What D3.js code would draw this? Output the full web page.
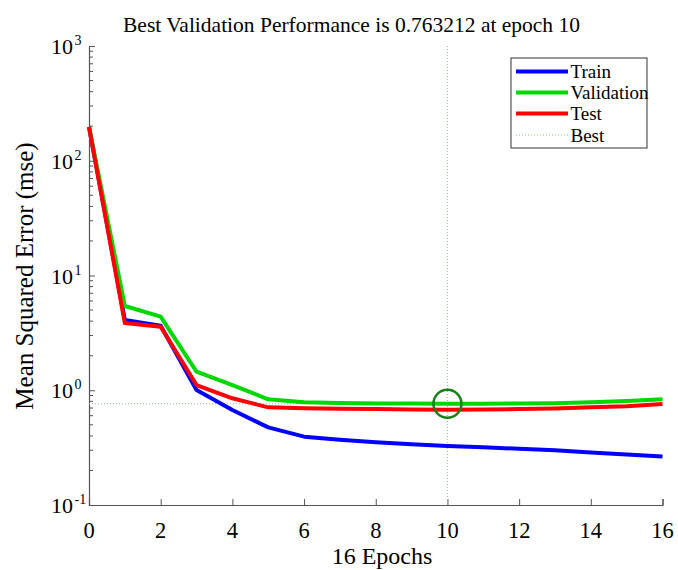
<!DOCTYPE html>
<html><head><meta charset="utf-8">
<script src="https://cdn.jsdelivr.net/npm/d3@7"></script>
<style>body{margin:0;background:#fff;} svg text{font-family:Liberation Serif, serif;}</style>
</head><body>
<svg id="chart" width="678" height="570" font-family="Liberation Serif"></svg>
<script>
const epochs = [0,1,2,3,4,5,6,7,8,9,10,11,12,13,14,15,16];
const train = [197,4.1,3.65,1.005,0.673,0.475,0.394,0.37,0.352,0.338,0.327,0.318,0.309,0.300,0.287,0.275,0.264];
const validation = [197,5.42,4.38,1.45,1.11,0.834,0.785,0.775,0.768,0.765,0.763212,0.764,0.765,0.772,0.785,0.805,0.834];
const test = [197,3.85,3.58,1.11,0.851,0.71,0.697,0.69,0.685,0.68,0.675,0.678,0.685,0.695,0.71,0.725,0.759];
const bestEpoch = 10, bestValue = 0.763212;
const xTicks = [0,2,4,6,8,10,12,14,16];
const yTicks = [0.1,1,10,100,1000];
const yExps = ["-1","0","1","2","3"];
const seriesNames = ["Train","Validation","Test"];
const seriesColors = ["#0000ff","#00d800","#ff0000"];
const titleText = "Best Validation Performance is 0.763212 at epoch 10";
const xLabel = "16 Epochs";
const yLabel = "Mean Squared Error (mse)";

const FONT = "Liberation Serif";
const svg = d3.select("#chart");
const L = 89, R = 662.5, T = 46, B = 505;
const x = d3.scaleLinear().domain([0,16]).range([L,R]);
const y = d3.scaleLog().domain([0.1,1000]).range([B,T]);
const axisColor = "#555";

function txt(sel){ return sel.attr("font-family",FONT).style("font-family",FONT); }

// minor y ticks
const minor = [];
for (let e=-1;e<3;e++) for (let k=2;k<=9;k++) minor.push(k*Math.pow(10,e));
svg.append("g").selectAll("line").data(minor).join("line")
  .attr("x1",L).attr("x2",L+4).attr("y1",d=>y(d)).attr("y2",d=>y(d))
  .attr("stroke",axisColor).attr("stroke-width",1);

// y axis
const yAxis = svg.append("g").attr("transform",`translate(${L},0)`)
  .call(d3.axisRight(y).tickValues(yTicks).tickSize(6).tickFormat(""));
yAxis.select(".domain").attr("stroke",axisColor).attr("stroke-width",1.2);
yAxis.selectAll(".tick line").attr("stroke",axisColor);
// y tick labels: base "10" and superscript exponent
txt(svg.append("g").selectAll("text").data(yTicks).join("text"))
  .attr("x",73).attr("y",d=>y(d)+8).attr("text-anchor","end").attr("font-size",22).text("10");
txt(svg.append("g").selectAll("text").data(yTicks).join("text"))
  .attr("x",74.5).attr("y",d=>y(d)-1).attr("text-anchor","start").attr("font-size",14).text((d,i)=>yExps[i]);

// x axis
const xAxis = svg.append("g").attr("transform",`translate(0,${B})`)
  .call(d3.axisTop(x).tickValues(xTicks).tickSize(6).tickFormat(""));
xAxis.select(".domain").attr("stroke",axisColor).attr("stroke-width",1.2);
xAxis.selectAll(".tick line").attr("stroke",axisColor);
txt(svg.append("g").selectAll("text").data(xTicks).join("text"))
  .attr("x",d=>x(d)).attr("y",538).attr("text-anchor","middle").attr("font-size",22.5)
  .text(d=>d);

// best lines
svg.append("line").attr("x1",x(bestEpoch)).attr("x2",x(bestEpoch)).attr("y1",T).attr("y2",B)
  .attr("stroke","#8fbf8f").attr("stroke-width",1).attr("stroke-dasharray","1,2");
svg.append("line").attr("x1",L).attr("x2",x(bestEpoch)).attr("y1",y(bestValue)).attr("y2",y(bestValue))
  .attr("stroke","#8fbf8f").attr("stroke-width",1).attr("stroke-dasharray","1,2");

// series
const line = d3.line().x((d,i)=>x(epochs[i])).y(d=>y(d));
[train,validation,test].forEach((s,i)=>{
  svg.append("path").datum(s).attr("d",line).attr("fill","none")
    .attr("stroke",seriesColors[i]).attr("stroke-width",4).attr("stroke-linejoin","round");
});

// best circle
svg.append("circle").attr("cx",x(bestEpoch)).attr("cy",y(bestValue)).attr("r",14)
  .attr("fill","none").attr("stroke","#1a801a").attr("stroke-width",2.5);

// title & labels
txt(svg.append("text")).attr("x",351.5).attr("y",32).attr("text-anchor","middle").attr("font-size",21.5).text(titleText);
txt(svg.append("text")).attr("x",382).attr("y",564).attr("text-anchor","middle").attr("font-size",24).text(xLabel);
txt(svg.append("text")).attr("transform","translate(33,276) rotate(-90)").attr("text-anchor","middle").attr("font-size",25).text(yLabel);

// legend
const lg = svg.append("g");
lg.append("rect").attr("x",511).attr("y",58).attr("width",136).attr("height",90)
  .attr("fill","#fff").attr("stroke","#333").attr("stroke-width",1);
const legItems = seriesNames.concat(["Best"]);
const legY = [71.5,92.5,113.5,135];
legItems.forEach((n,i)=>{
  const ln = lg.append("line").attr("x1",516).attr("x2",568).attr("y1",legY[i]).attr("y2",legY[i]);
  if (i<3) ln.attr("stroke",seriesColors[i]).attr("stroke-width",4);
  else ln.attr("stroke","#8fbf8f").attr("stroke-width",1).attr("stroke-dasharray","1,2");
  txt(lg.append("text")).attr("x",570.5).attr("y",legY[i]+6.5).attr("font-size",19).text(n);
});
</script>
</body></html>
